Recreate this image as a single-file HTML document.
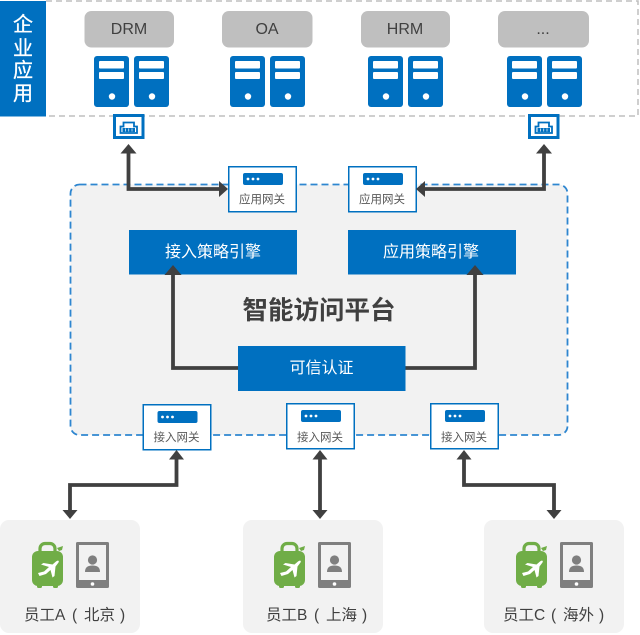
<!DOCTYPE html>
<html lang="zh">
<head>
<meta charset="utf-8">
<style>
html,body{margin:0;padding:0;background:#fff;width:640px;height:635px;overflow:hidden}
svg{display:block}
text{font-family:"Liberation Sans","Noto Sans CJK SC",sans-serif}
</style>
</head>
<body>
<svg width="640" height="635" viewBox="0 0 640 635" xmlns="http://www.w3.org/2000/svg">
<defs>
<g id="srv">
  <rect x="0" y="0" width="35" height="51" rx="3" fill="#0070c0"/>
  <rect x="5" y="5" width="25" height="7.5" rx="1" fill="#fff"/>
  <rect x="5" y="16" width="25" height="7" rx="1" fill="#fff"/>
  <circle cx="18" cy="40.500" r="3.200" fill="#fff"/>
</g>
<g id="srv2">
  <use href="#srv" x="0" y="0"/>
  <use href="#srv" x="40" y="0"/>
</g>
<g id="port">
  <rect x="1.500" y="1.500" width="28.500" height="22" fill="#fff" stroke="#0070c0" stroke-width="3"/>
  <path d="M7.500 19V12.500H10.500V8.500H21V12.500H24V19Z" fill="none" stroke="#0070c0" stroke-width="1.800"/>
  <rect x="9.500" y="14" width="12.500" height="4" fill="#0070c0"/>
  <path d="M12.500 14.500V17.500M15.750 14.500V17.500M19 14.500V17.500" stroke="#fff" stroke-width="0.700"/>
</g>
<g id="gw">
  <rect x="0.750" y="0.750" width="67.500" height="45" fill="#fff" stroke="#0070c0" stroke-width="1.500"/>
  <rect x="15" y="7" width="40" height="12" rx="2" fill="#0070c0"/>
  <circle cx="20" cy="13" r="1.400" fill="#fff"/>
  <circle cx="25" cy="13" r="1.400" fill="#fff"/>
  <circle cx="30" cy="13" r="1.400" fill="#fff"/>
</g>
<g id="bag">
  <rect x="8" y="1.500" width="15" height="14" rx="5" fill="none" stroke="#70ad47" stroke-width="3.200"/>
  <rect x="0" y="9" width="31" height="35" rx="6" fill="#70ad47"/>
  <rect x="5" y="42" width="5" height="4" rx="1.500" fill="#70ad47"/>
  <rect x="21" y="42" width="5" height="4" rx="1.500" fill="#70ad47"/>
  <path d="M25 6L31 4L30 8L27 9Z" fill="#70ad47"/>
  <path d="M6 31L12 29.500L17 25L9 22.500L11.500 21L20.500 22.500L24 19.500C26 18 27.500 18.500 26.500 20.500L23.500 24.500L22.500 34L20.500 35.500L18.500 28L14 32L7.500 34Z" fill="#fff"/>
</g>
<g id="ph">
  <rect x="0" y="0" width="33" height="46" rx="1.500" fill="#7f7f7f"/>
  <rect x="3" y="3" width="27" height="35" fill="#f2f2f2"/>
  <circle cx="16.500" cy="42" r="1.800" fill="#fff"/>
  <circle cx="16.500" cy="18" r="4.600" fill="#7f7f7f"/>
  <path d="M9 30C9 25 12 23.500 16.500 23.500C21 23.500 24 25 24 30Z" fill="#7f7f7f"/>
</g>
</defs>

<!-- enterprise box -->
<path d="M46 1H638V116H46" fill="none" stroke="#bfbfbf" stroke-width="1.500" stroke-dasharray="6 4"/>
<rect x="0" y="1" width="46" height="115.500" fill="#0070c0"/>
<g font-size="20" fill="#fff" text-anchor="middle" stroke="#fff" stroke-width="0.300">
  <text x="23" y="31">企</text>
  <text x="23" y="55">业</text>
  <text x="23" y="77">应</text>
  <text x="23" y="100">用</text>
</g>

<g fill="#bfbfbf">
  <rect x="84.500" y="11" width="89.500" height="36.500" rx="7"/>
  <rect x="222" y="11" width="90.500" height="36.500" rx="7"/>
  <rect x="361" y="11" width="89" height="36.500" rx="7"/>
  <rect x="498" y="11" width="91" height="36.500" rx="7"/>
</g>
<g font-size="16" fill="#404040" text-anchor="middle">
  <text x="129" y="34">DRM</text>
  <text x="267" y="34">OA</text>
  <text x="405" y="34">HRM</text>
  <text x="543" y="34">...</text>
</g>

<use href="#srv2" x="94" y="56"/>
<use href="#srv2" x="230" y="56"/>
<use href="#srv2" x="368" y="56"/>
<use href="#srv2" x="507" y="56"/>

<use href="#port" x="113" y="114"/>
<use href="#port" x="528" y="114"/>

<!-- platform -->
<rect x="70.500" y="184.500" width="497" height="250.500" rx="9" fill="#f2f2f2" stroke="#2e86d0" stroke-width="1.800" stroke-dasharray="7 4"/>

<!-- gateways -->
<use href="#gw" x="228" y="166"/>
<use href="#gw" x="348" y="166"/>
<use href="#gw" x="142.500" y="404"/>
<use href="#gw" x="286" y="403"/>
<use href="#gw" x="430" y="403"/>
<g font-size="11.500" fill="#595959" text-anchor="middle">
  <text x="262" y="203">应用网关</text>
  <text x="382" y="203">应用网关</text>
  <text x="176.500" y="441">接入网关</text>
  <text x="320" y="441">接入网关</text>
  <text x="464" y="441">接入网关</text>
</g>

<!-- blue boxes -->
<g fill="#0070c0">
  <rect x="129" y="230" width="168" height="44.500"/>
  <rect x="348" y="230" width="168" height="44.500"/>
</g>

<!-- connectors -->
<g fill="none" stroke="#404040" stroke-width="3.800">
  <path d="M128.500 150V189H220"/>
  <path d="M544 150V189H424"/>
  <path d="M173 272V368H240"/>
  <path d="M475 272V368H404"/>
  <path d="M176.500 456V485H70V512"/>
  <path d="M320 456V512"/>
  <path d="M464 456V485H554V512"/>
</g>
<g fill="#404040">
  <path d="M128.500 144L136.500 153.500H120.500Z"/>
  <path d="M544 144L552 153.500H536Z"/>
  <path d="M228 189L219 181V197Z"/>
  <path d="M416 189L425 181V197Z"/>
  <path d="M173 265L181.500 275H164.500Z"/>
  <path d="M475 265L483.500 275H466.500Z"/>
  <path d="M176.500 450L184 459.500H169Z"/>
  <path d="M320 450L327.500 459.500H312.500Z"/>
  <path d="M464 450L471.500 459.500H456.500Z"/>
  <path d="M70 519L62.500 510H77.500Z"/>
  <path d="M320 519L312.500 510H327.500Z"/>
  <path d="M554 519L546.500 510H561.500Z"/>
</g>

<rect x="238" y="346" width="167.500" height="45" fill="#0070c0"/>
<g font-size="16" fill="#fff" text-anchor="middle">
  <text x="213" y="257">接入策略引擎</text>
  <text x="431" y="257">应用策略引擎</text>
  <text x="321.500" y="373">可信认证</text>
</g>
<text x="319" y="319" font-size="25.500" font-weight="700" fill="#404040" text-anchor="middle">智能访问平台</text>

<!-- employees -->
<g fill="#f2f2f2">
  <rect x="0" y="520" width="140" height="113" rx="9"/>
  <rect x="243" y="520" width="140" height="113" rx="9"/>
  <rect x="484" y="520" width="140" height="113" rx="9"/>
</g>
<use href="#bag" x="32" y="542"/><use href="#ph" x="76" y="542"/>
<use href="#bag" x="274" y="542"/><use href="#ph" x="318" y="542"/>
<use href="#bag" x="516" y="542"/><use href="#ph" x="560" y="542"/>
<g font-size="15.500" fill="#404040">
  <text x="24" y="620">员工A</text>
  <text x="72" y="620">(</text>
  <text x="84" y="620">北京</text>
  <text x="120" y="620">)</text>
  <text x="266" y="620">员工B</text>
  <text x="314" y="620">(</text>
  <text x="326" y="620">上海</text>
  <text x="362" y="620">)</text>
  <text x="503" y="620">员工C</text>
  <text x="551" y="620">(</text>
  <text x="563" y="620">海外</text>
  <text x="599" y="620">)</text>
</g>
</svg>
</body>
</html>
